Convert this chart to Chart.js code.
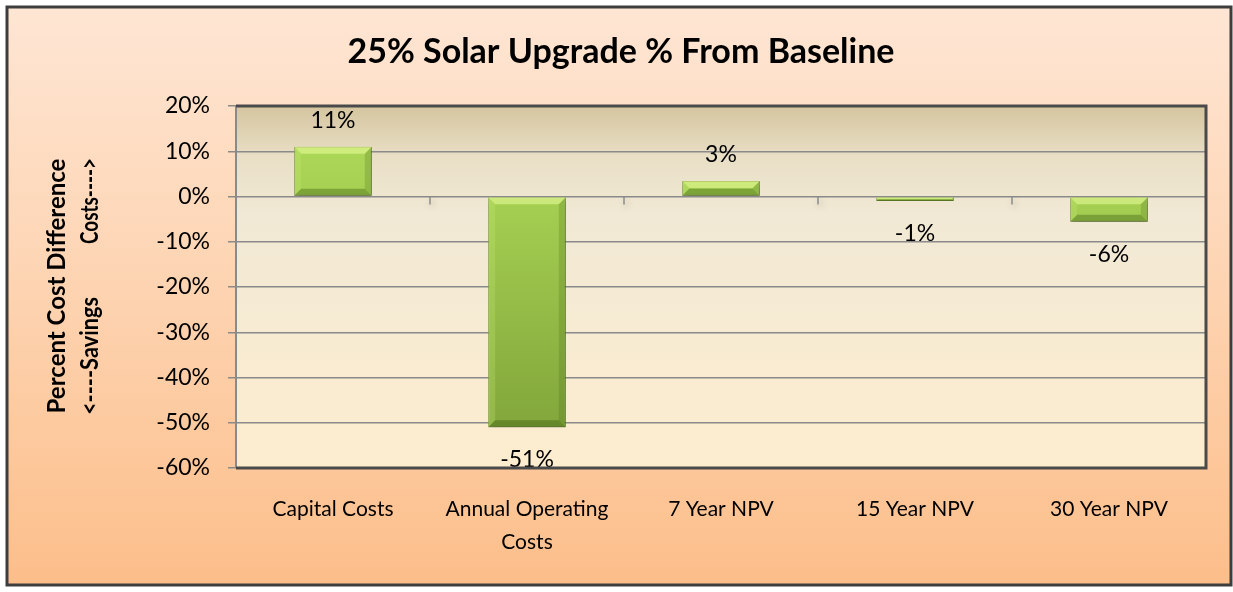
<!DOCTYPE html>
<html>
<head>
<meta charset="utf-8">
<script src="https://cdn.jsdelivr.net/npm/chart.js@4.4.0/dist/chart.umd.min.js"></script>
<style>
html,body{margin:0;padding:0;background:#fff;}
#wrap{width:1233px;height:592px;position:relative;}
</style>
</head>
<body>
<div id="wrap"><canvas id="c" width="1233" height="592"></canvas></div>
<script>
const chartTitle = '25% Solar Upgrade % From Baseline';
const categories = ['Capital Costs', ['Annual Operating', 'Costs'], '7 Year NPV', '15 Year NPV', '30 Year NPV'];
const values = [11, -51, 3.4, -1, -5.6];
const yTicks = { min: -60, max: 20, step: 10 };
const yTitleLine1 = 'Percent Cost Difference';
const yTitleLeft = '<----Savings';
const yTitleRight = 'Costs---->';

const FONT = 'Lato, "Open Sans", sans-serif';

const backgroundPlugin = {
  id: 'bgPlugin',
  beforeDraw(chart) {
    const ctx = chart.ctx;
    const W = chart.width, H = chart.height;
    ctx.save();
    ctx.fillStyle = '#ffffff';
    ctx.fillRect(0, 0, W, H);
    const g = ctx.createLinearGradient(0, 6, 0, 586);
    g.addColorStop(0, '#fee6d4');
    g.addColorStop(0.5, '#fdd3b0');
    g.addColorStop(1, '#fcbe8a');
    ctx.fillStyle = g;
    ctx.fillRect(6, 6, W - 8, H - 12);
    const a = chart.chartArea;
    const pg = ctx.createLinearGradient(0, a.top, 0, a.bottom);
    pg.addColorStop(0, '#d5c59f');
    pg.addColorStop(0.14, '#e9dfc6');
    pg.addColorStop(0.3, '#f1e9d5');
    pg.addColorStop(1, '#fdedcf');
    ctx.fillStyle = pg;
    ctx.fillRect(a.left, a.top, a.right - a.left, a.bottom - a.top);
    ctx.restore();
  },
  afterDraw(chart) {
    const ctx = chart.ctx;
    const a = chart.chartArea;
    const W = chart.width, H = chart.height;
    ctx.save();
    ctx.strokeStyle = '#4a4a4a';
    ctx.lineWidth = 3;
    ctx.beginPath();
    ctx.moveTo(a.left, a.top);
    ctx.lineTo(a.right, a.top);
    ctx.lineTo(a.right, a.bottom);
    ctx.lineTo(a.left, a.bottom);
    ctx.stroke();
    ctx.strokeStyle = '#3d3d3d';
    ctx.lineWidth = 3;
    ctx.strokeRect(7, 7, W - 9, H - 14);
    ctx.fillStyle = '#000';
    ctx.font = 'bold 34px ' + FONT;
    ctx.textAlign = 'center';
    ctx.textBaseline = 'middle';
    ctx.fillText(chartTitle, 621, 52);
    ctx.font = 'bold 24px ' + FONT;
    ctx.translate(0, 286);
    ctx.rotate(-Math.PI / 2);
    ctx.textAlign = 'center';
    ctx.fillText(yTitleLine1, 0, 57, 258);
    ctx.textAlign = 'left';
    ctx.fillText(yTitleLeft, -129, 90, 118);
    ctx.textAlign = 'right';
    ctx.fillText(yTitleRight, 128, 90, 86);
    ctx.restore();
  }
};

const zeroTickPlugin = {
  id: 'zeroTicks',
  afterDatasetsDraw(chart) {
    const ctx = chart.ctx;
    const xs = chart.scales.x, ys = chart.scales.y;
    const y0 = ys.getPixelForValue(0);
    ctx.save();
    ctx.strokeStyle = '#8a8a8a';
    ctx.lineWidth = 1.5;
    ctx.beginPath();
    for (let i = 0; i < categories.length - 1; i++) {
      const xb = (xs.getPixelForValue(i) + xs.getPixelForValue(i + 1)) / 2;
      ctx.moveTo(xb, y0);
      ctx.lineTo(xb, y0 + 8);
    }
    ctx.stroke();
    ctx.restore();
  }
};

const bevelPlugin = {
  id: 'bevel',
  beforeDatasetsDraw(chart) {
    const ctx = chart.ctx;
    ctx.save();
    ctx.shadowColor = 'rgba(0,0,0,0.28)';
    ctx.shadowBlur = 7;
    ctx.shadowOffsetX = 2;
    ctx.shadowOffsetY = 3;
  },
  afterDatasetsDraw(chart) {
    const ctx = chart.ctx;
    ctx.restore();
    const meta = chart.getDatasetMeta(0);
    ctx.save();
    meta.data.forEach((bar, i) => {
      const l = bar.x - bar.width / 2, r = bar.x + bar.width / 2;
      const t = Math.min(bar.y, bar.base), b = Math.max(bar.y, bar.base);
      const h = b - t;
      const bv = Math.min(7, h / 2);
      ctx.fillStyle = 'rgba(230,250,150,0.6)';
      ctx.beginPath();
      ctx.moveTo(l, t); ctx.lineTo(r, t); ctx.lineTo(r - bv, t + bv); ctx.lineTo(l + bv, t + bv); ctx.closePath(); ctx.fill();
      ctx.fillStyle = 'rgba(200,235,120,0.25)';
      ctx.beginPath();
      ctx.moveTo(l, t); ctx.lineTo(l + bv, t + bv); ctx.lineTo(l + bv, b - bv); ctx.lineTo(l, b); ctx.closePath(); ctx.fill();
      ctx.fillStyle = 'rgba(70,100,20,0.22)';
      ctx.beginPath();
      ctx.moveTo(r, t); ctx.lineTo(r - bv, t + bv); ctx.lineTo(r - bv, b - bv); ctx.lineTo(r, b); ctx.closePath(); ctx.fill();
      ctx.fillStyle = 'rgba(50,80,10,0.35)';
      ctx.beginPath();
      ctx.moveTo(l, b); ctx.lineTo(r, b); ctx.lineTo(r - bv, b - bv); ctx.lineTo(l + bv, b - bv); ctx.closePath(); ctx.fill();
      const v = values[i];
      ctx.fillStyle = '#000';
      ctx.font = '23px ' + FONT;
      ctx.textAlign = 'center';
      if (v >= 0) {
        ctx.textBaseline = 'bottom';
        ctx.fillText(Math.round(v) + '%', bar.x, t - 15);
      } else {
        ctx.textBaseline = 'top';
        ctx.fillText(Math.round(v) + '%', bar.x, b + 21);
      }
    });
    ctx.restore();
  }
};

const ctx = document.getElementById('c').getContext('2d');
new Chart(ctx, {
  type: 'bar',
  data: {
    labels: categories,
    datasets: [{
      data: values,
      backgroundColor: (c) => {
        const a = c.chart.chartArea;
        if (!a) return '#9cc84a';
        const g = c.chart.ctx.createLinearGradient(0, a.top, 0, a.bottom);
        g.addColorStop(0, '#b2dc5e');
        g.addColorStop(0.25, '#a5d052');
        g.addColorStop(1, '#7c9f37');
        return g;
      },
      borderColor: '#6f8f30',
      borderWidth: 1,
      borderSkipped: false,
      barPercentage: 0.4,
      categoryPercentage: 1.0
    }]
  },
  options: {
    responsive: false,
    animation: false,
    devicePixelRatio: 1,
    layout: { padding: { left: 0, right: 27, top: 106, bottom: 0 } },
    plugins: { legend: { display: false }, title: { display: false }, tooltip: { enabled: false } },
    scales: {
      x: {
        grid: { display: false, drawTicks: false },
        border: { display: false },
        ticks: { color: '#000', font: { family: FONT, size: 21, lineHeight: 1.57 }, padding: 25, maxRotation: 0, autoSkip: false },
        afterFit: (s) => { s.height = 124; }
      },
      y: {
        min: yTicks.min, max: yTicks.max,
        grid: { color: '#8a8a8a', lineWidth: 1.5, tickLength: 8, drawTicks: true },
        border: { display: true, color: '#8a8a8a', width: 2 },
        ticks: { stepSize: yTicks.step, color: '#000', font: { family: FONT, size: 23 }, padding: 18, callback: (v) => v + '%' },
        afterFit: (s) => { s.width = 236; }
      }
    }
  },
  plugins: [backgroundPlugin, zeroTickPlugin, bevelPlugin]
});
</script>
</body>
</html>
